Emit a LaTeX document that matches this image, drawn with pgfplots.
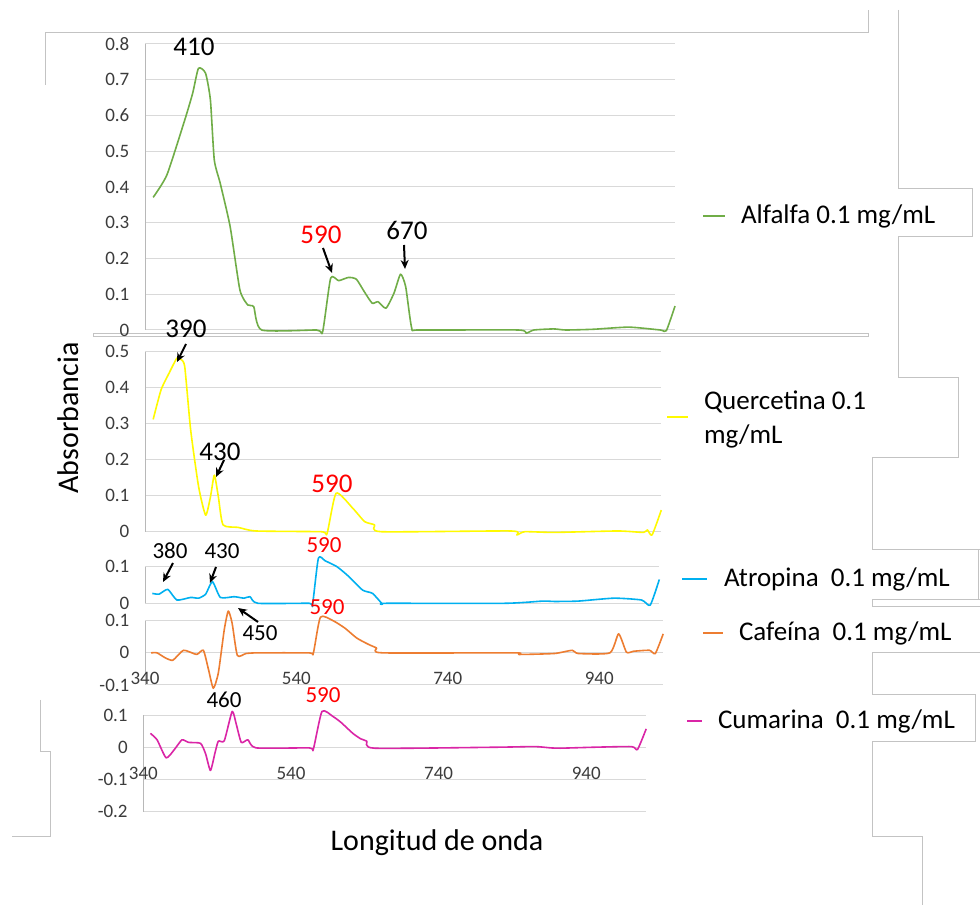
\documentclass[border=0pt]{standalone}
\usepackage{fontspec}
\setmainfont{Carlito}
\usepackage{pgfplots}
\pgfplotsset{compat=1.18}
\usetikzlibrary{arrows.meta}

\definecolor{alfgreen}{RGB}{112,173,71}
\definecolor{quyellow}{RGB}{255,250,0}
\definecolor{atblue}{RGB}{0,176,240}
\definecolor{caforange}{RGB}{237,125,49}
\definecolor{cumagenta}{RGB}{218,37,166}
\definecolor{gridgray}{RGB}{217,217,217}
\definecolor{framegray}{RGB}{195,195,195}
\definecolor{tickgray}{RGB}{60,60,60}

\newcommand\fs[1]{\fontsize{#1}{#1}\selectfont}

\pgfplotsset{
  panel/.style={
    scale only axis, anchor=south west, clip=false,
    axis lines=left,
    x axis line style={draw=none},
    y axis line style={draw=gridgray!85!black, line width=1pt, -},
    tick style={draw=none},
    ymajorgrids, major grid style={gridgray, line width=1pt},
    xtick=\empty,
    /pgf/number format/fixed,
    /pgf/number format/assume math mode=true,
    yticklabel style={font=\fs{19}, text=tickgray, xshift=-10pt},
    xticklabel style={font=\fs{19}, text=tickgray, anchor=south, yshift=-1pt, xshift=-7pt},
    every axis plot/.append style={line width=1.6pt, line join=round, smooth, tension=0.35},
  },
}

\begin{document}
\begin{tikzpicture}[x=1pt, y=1pt]
\path[use as bounding box, fill=white] (0,0) rectangle (980,905);

% frame lines of the pasted pictures
\begin{scope}[framegray, line width=1pt]
  \draw (45,820) -- (45,872) -- (868,872) -- (868,895);
  \draw (898,895) -- (898,716) -- (972,716) -- (972,668) -- (898,668) -- (898,527)
        -- (958,527) -- (958,447) -- (872,447) -- (872,355) -- (980,355);
  \draw (978,355) -- (978,305);
  \draw (980,305) -- (872,305) -- (872,298) -- (980,298);
  \draw (980,252) -- (872,252) -- (872,210) -- (975,210) -- (975,163) -- (872,163)
        -- (872,68) -- (922,68) -- (922,0);
  \draw (40,205) -- (40,153) -- (50,153) -- (50,68) -- (12,68);
  \draw (93,568) rectangle (868,571.5);
\end{scope}

% Alfalfa
\begin{axis}[panel, at={(145pt,575pt)}, width=530pt, height=286pt,
  xmin=330.8, xmax=1031.6, ymin=0, ymax=0.8, ytick={0,0.1,...,0.8}]
\addplot[alfgreen] coordinates {
(341.6,0.371) (359.8,0.434) (383.3,0.587) (393.8,0.662) (401.5,0.732) (410.9,0.718)
(417.3,0.643) (422.4,0.476) (430.3,0.410) (443.4,0.289) (456.3,0.112) (466.7,0.070)
(474.6,0.065) (485.1,0) (557.8,0) (565.7,-0.005) (576.3,0.145) (586.8,0.138)
(599.9,0.147) (610.3,0.142) (620.8,0.107) (631.2,0.075) (639.0,0.079) (649.4,0.061)
(660.0,0.103) (668.7,0.156) (675.5,0.121) (683.5,0.005) (693.8,0) (824.3,0)
(834.7,-0.009) (845.2,0) (871.3,0.003) (887.0,0) (923.5,0.002) (970.5,0.008)
(1012.3,0) (1020.1,-0.002) (1031.6,0.067)
};
\end{axis}

% Quercetina
\begin{axis}[panel, at={(145pt,373.3pt)}, width=516.3pt, height=180pt,
  xmin=330.8, xmax=1012.8, ymin=0, ymax=0.5, ytick={0,0.1,...,0.5}]
\addplot[quyellow] coordinates {
(341.6,0.312) (352.0,0.394) (362.5,0.44) (372.9,0.482) (378.0,0.479) (383.3,0.458)
(391.1,0.283) (401.6,0.125) (410.9,0.046) (417.3,0.097) (422.4,0.157) (427.7,0.097)
(433.9,0.019) (453.9,0.012) (477.4,0.002) (563.5,0) (571.3,-0.005) (583.3,0.107)
(605.3,0.065) (621.0,0.028) (634.1,0.019) (642.9,0) (814.2,0.002) (822.0,-0.009)
(832.5,0) (871.7,-0.002) (955.3,0.002) (989.3,-0.002) (994.4,0.005) (1000.6,-0.009)
(1012.8,0.060)
};
\end{axis}

% Atropina
\begin{axis}[panel, at={(145pt,301.7pt)}, width=514.3pt, height=36.6pt,
  xmin=330.8, xmax=1010.1, ymin=0, ymax=0.1, ytick={0,0.1}]
\addplot[atblue] coordinates {
(340.5,0.027) (349.4,0.025) (360.9,0.038) (372.9,0.009) (391.1,0.016) (401.6,0.014)
(410.9,0.025) (419.9,0.059) (430.4,0.016) (448.6,0.018) (461.7,0.014) (469.5,0.018)
(479.9,0) (547.8,0) (552.0,-0.005) (559.8,0.123) (568.8,0.116) (584.4,0.1)
(600.1,0.073) (618.3,0.036) (631.4,0.027) (644.5,-0.002) (649.6,0) (806.5,0)
(856.0,0.006) (871.7,0.005) (903.0,0.006) (950.1,0.014) (986.6,0.009) (998.1,-0.005)
(1010.1,0.065)
};
\end{axis}

% Cafeina
\begin{axis}[panel, at={(145pt,220pt)}, width=518.2pt, height=64.3pt,
  xmin=330.8, xmax=1015.3, ymin=-0.1, ymax=0.1, ytick={-0.1,0,0.1},
  xtick={340,540,740,940}]
\addplot[caforange] coordinates {
(338.9,0) (346.7,0) (357.2,-0.015) (367.6,-0.023) (381.7,0.008) (398.9,-0.005)
(407.9,0.008) (414.6,-0.051) (421.0,-0.11) (427.7,-0.062) (435.5,0.072) (440.8,0.130)
(445.9,0.092) (452.8,-0.008) (464.3,-0.002) (479.9,0) (547.8,0) (553.1,-0.002)
(562.5,0.111) (579.2,0.1) (594.8,0.077) (610.5,0.046) (626.3,0.026) (636.7,0.015)
(644.5,0) (819.5,0) (824.7,-0.005) (871.7,-0.002) (895.2,0.008) (903.0,-0.002)
(944.9,0) (956.4,0.059) (966.8,0.002) (976.2,0.005) (997.1,0.008) (1004.9,-0.002)
(1015.3,0.059)
};
\end{axis}

% Cumarina
\begin{axis}[panel, at={(143.3pt,93.3pt)}, width=502.9pt, height=96.7pt,
  xmin=330.4, xmax=1011.8, ymin=-0.2, ymax=0.1, ytick={-0.2,-0.1,0,0.1},
  xtick={340,540,740,940}, xticklabel style={yshift=31.3pt}]
\addplot[cumagenta] coordinates {
(340,0.043) (349.1,0.023) (361.4,-0.033) (373.2,-0.005) (382.8,0.023) (391.9,0.015)
(408.0,0.012) (414.9,-0.021) (421.4,-0.072) (427.8,-0.015) (432.1,0.019) (440.1,0.02)
(450.8,0.111) (456.3,0.072) (463.2,0.015) (472.2,0.023) (483.1,-0.002) (555.3,-0.002)
(560.7,-0.007) (572.5,0.111) (587.6,0.095) (598.3,0.077) (614.3,0.043) (625.0,0.026)
(633.1,0.019) (643.8,-0.003) (807.2,0) (860.7,0.002) (882.1,-0.002) (895.6,-0.003)
(941.1,0) (992.0,0.002) (1000.0,-0.007) (1011.8,0.057)
};
\end{axis}

% peak annotations
\begin{scope}[every node/.style={inner sep=0pt}, >={Stealth[length=9pt,width=8pt]}, line width=2pt]
  \node[font=\fs{27}] at (194,858) {410};
  \node[font=\fs{27}, red] at (321,670) {590};
  \draw[->] (323,657) -- (332,632);
  \node[font=\fs{27}] at (407,675) {670};
  \draw[->] (404,660) -- (405,636);

  \node[font=\fs{27}] at (186,576) {390};
  \draw[->] (186,561) -- (177,543);
  \node[font=\fs{27}] at (220,453) {430};
  \draw[->] (224,445) -- (216,428);
  \node[font=\fs{27}, red] at (332,421) {590};

  \node[font=\fs{23}] at (170,354) {380};
  \draw[->] (173,342) -- (163,323);
  \node[font=\fs{23}] at (222,354) {430};
  \draw[->] (216,338) -- (210,322);
  \node[font=\fs{23}, red] at (324,360) {590};

  \node[font=\fs{23}] at (260,272) {450};
  \draw[->] (258,283) -- (238,297);
  \node[font=\fs{23}, red] at (327,298) {590};

  \node[font=\fs{23}] at (224,205) {460};
  \node[font=\fs{23}, red] at (323,210) {590};
\end{scope}

% legends
\begin{scope}[line width=2pt, every node/.style={inner sep=0pt, anchor=west, font=\fs{27}}]
  \draw[alfgreen] (703,689) -- (725,689);
  \node at (740,689) {Alfalfa 0.1 mg/mL};
  \draw[quyellow] (667,488) -- (688,488);
  \node at (703,503) {Quercetina 0.1};
  \node at (703,469) {mg/mL};
  \draw[atblue] (682,326) -- (707,326);
  \node at (723,326) {Atropina\ \ 0.1 mg/mL};
  \draw[caforange] (703,272) -- (723,272);
  \node at (738,272) {Cafeína\ \ 0.1 mg/mL};
  \draw[cumagenta] (687,184) -- (702,184);
  \node at (717,184) {Cumarina\ \ 0.1 mg/mL};
\end{scope}

% axis titles
\node[rotate=90, font=\fs{30}] at (68,487) {Absorbancia};
\node[font=\fs{30}] at (437,62) {Longitud de onda};
\end{tikzpicture}
\end{document}
